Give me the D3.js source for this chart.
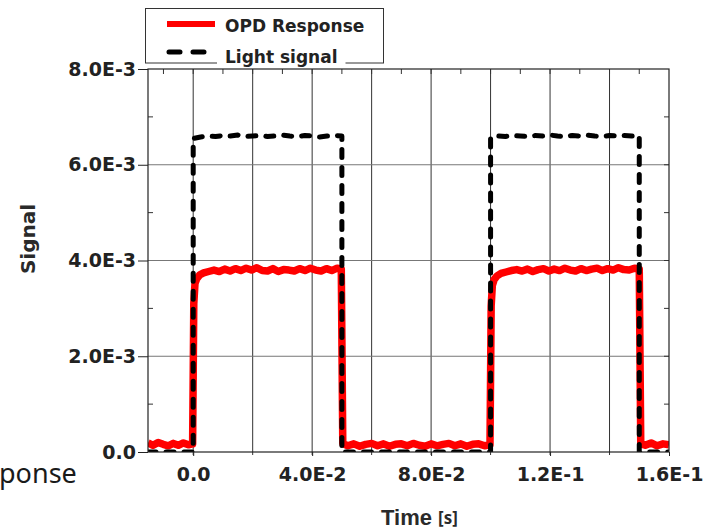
<!DOCTYPE html>
<html>
<head>
<meta charset="utf-8">
<script src="https://cdn.jsdelivr.net/npm/d3@7/dist/d3.min.js"></script>
<style>
  html, body { margin: 0; padding: 0; background: #fff; }
  svg { display: block; }
</style>
</head>
<body>
<svg id="chart" width="709" height="530"></svg>
<script>
// ---- data (signal values in units of 1E-3) ----
const SIGNAL_UNIT = 1e-3;

const respTime = [
  -0.0152, -0.0135, -0.0118, -0.0101, -0.0084, -0.0067, -0.0050, -0.0033, -0.0016, -0.0002,
  0.0002, 0.0006, 0.0012, 0.0022, 0.0035, 0.0052,
  0.0070, 0.0088, 0.0106, 0.0124, 0.0142, 0.0160, 0.0178, 0.0196, 0.0214, 0.0232,
  0.0250, 0.0268, 0.0286, 0.0304, 0.0322, 0.0340, 0.0358, 0.0376, 0.0394, 0.0412,
  0.0430, 0.0448, 0.0466, 0.0484, 0.0498,
  0.0503, 0.0520, 0.0540, 0.0560, 0.0580, 0.0600, 0.0620, 0.0640, 0.0660, 0.0680,
  0.0700, 0.0720, 0.0740, 0.0760, 0.0780, 0.0800, 0.0820, 0.0840, 0.0860, 0.0880,
  0.0900, 0.0920, 0.0940, 0.0960, 0.0980, 0.0998,
  0.1002, 0.1006, 0.1012, 0.1022, 0.1035, 0.1052,
  0.1070, 0.1088, 0.1106, 0.1124, 0.1142, 0.1160, 0.1178, 0.1196, 0.1214, 0.1232,
  0.1250, 0.1268, 0.1286, 0.1304, 0.1322, 0.1340, 0.1358, 0.1376, 0.1394, 0.1412,
  0.1430, 0.1448, 0.1466, 0.1484, 0.1500,
  0.1505, 0.1520, 0.1540, 0.1560, 0.1580, 0.1600
];
const respSignal = [
  0.19, 0.14, 0.20, 0.16, 0.13, 0.18, 0.14, 0.19, 0.15, 0.17,
  3.10, 3.52, 3.62, 3.70, 3.74, 3.77,
  3.80, 3.77, 3.82, 3.78, 3.83, 3.79, 3.84, 3.80, 3.85, 3.79,
  3.78, 3.83, 3.77, 3.81, 3.80, 3.78, 3.83, 3.79, 3.84, 3.80,
  3.78, 3.83, 3.79, 3.84, 3.82,
  0.18, 0.13, 0.17, 0.12, 0.16, 0.18, 0.13, 0.17, 0.12, 0.16,
  0.17, 0.13, 0.18, 0.14, 0.12, 0.17, 0.13, 0.16, 0.18, 0.13,
  0.17, 0.12, 0.16, 0.17, 0.13, 0.15,
  3.05, 3.48, 3.60, 3.68, 3.73, 3.76,
  3.79, 3.81, 3.78, 3.82, 3.77, 3.81, 3.83, 3.78, 3.82, 3.79,
  3.84, 3.80, 3.78, 3.83, 3.79, 3.82, 3.84, 3.79, 3.83, 3.80,
  3.85, 3.81, 3.80, 3.84, 3.82,
  0.17, 0.14, 0.19, 0.13, 0.17, 0.15
];

const lightTime = [
  -0.0152, 0.0000,
  0.0000, 0.0025, 0.0050, 0.0075, 0.0100, 0.0125, 0.0150, 0.0175, 0.0200, 0.0225,
  0.0250, 0.0275, 0.0300, 0.0325, 0.0350, 0.0375, 0.0400, 0.0425, 0.0450, 0.0475, 0.0500,
  0.0500, 0.1000,
  0.1000, 0.1025, 0.1050, 0.1075, 0.1100, 0.1125, 0.1150, 0.1175, 0.1200, 0.1225,
  0.1250, 0.1275, 0.1300, 0.1325, 0.1350, 0.1375, 0.1400, 0.1425, 0.1450, 0.1475, 0.1500,
  0.1500, 0.1600
];
const lightSignal = [
  0, 0,
  6.55, 6.58, 6.60, 6.59, 6.61, 6.60, 6.62, 6.59, 6.60, 6.61,
  6.59, 6.60, 6.62, 6.60, 6.59, 6.61, 6.60, 6.58, 6.60, 6.61, 6.60,
  0, 0,
  6.57, 6.60, 6.59, 6.61, 6.60, 6.59, 6.61, 6.60, 6.62, 6.60,
  6.59, 6.61, 6.60, 6.62, 6.60, 6.59, 6.61, 6.60, 6.61, 6.60, 6.61,
  0, 0
];

const xDomain = [-0.0152, 0.16];
const yDomain = [0, 8];
const xTickValues = [0, 0.04, 0.08, 0.12, 0.16];
const xTickLabels = ["0.0", "4.0E-2", "8.0E-2", "1.2E-1", "1.6E-1"];
const yTickValues = [0, 2, 4, 6, 8];
const yTickLabels = ["0.0", "2.0E-3", "4.0E-3", "6.0E-3", "8.0E-3"];
const xGridValues = [0, 0.02, 0.04, 0.06, 0.08, 0.10, 0.12, 0.14];
const yGridValues = [2, 4, 6];
const xMinorValues = [-0.01, 0, 0.01, 0.02, 0.03, 0.04, 0.05, 0.06, 0.07, 0.08, 0.09, 0.10, 0.11, 0.12, 0.13, 0.14, 0.15];
const yMinorValues = [1, 2, 3, 4, 5, 6, 7];

const seriesNames = ["OPD Response", "Light signal"];
const seriesColors = ["#ff0000", "#000000"];

// ---- layout ----
const svg = d3.select("#chart");
const plot = { left: 148, right: 669, top: 69, bottom: 452 };
const tickFont = "'DejaVu Sans', sans-serif";

const x = d3.scaleLinear().domain(xDomain).range([plot.left, plot.right]);
const y = d3.scaleLinear().domain(yDomain).range([plot.bottom, plot.top]);

svg.append("defs").append("clipPath").attr("id", "plot-clip")
  .append("rect")
  .attr("x", plot.left).attr("y", plot.top)
  .attr("width", plot.right - plot.left).attr("height", plot.bottom - plot.top);

// grid
const grid = svg.append("g");
grid.selectAll("line.vg").data(xGridValues).join("line")
  .attr("x1", d => x(d)).attr("x2", d => x(d))
  .attr("y1", plot.top).attr("y2", plot.bottom + 3)
  .attr("stroke", "#333").attr("stroke-width", 1);
grid.selectAll("line.hg").data(yGridValues).join("line")
  .attr("x1", plot.left).attr("x2", plot.right)
  .attr("y1", d => y(d)).attr("y2", d => y(d))
  .attr("stroke", "#777").attr("stroke-width", 1);

// inner minor ticks on top and right, left minor ticks
const minor = svg.append("g").attr("stroke", "#333").attr("stroke-width", 1);
minor.selectAll("line.t").data(xMinorValues).join("line")
  .attr("x1", d => x(d)).attr("x2", d => x(d))
  .attr("y1", plot.top).attr("y2", plot.top + 5);
minor.selectAll("line.r").data(yMinorValues).join("line")
  .attr("x1", plot.right - 5).attr("x2", plot.right)
  .attr("y1", d => y(d)).attr("y2", d => y(d));
minor.selectAll("line.l").data(yMinorValues.filter(v => v % 2 === 1)).join("line")
  .attr("x1", plot.left).attr("x2", plot.left + 5)
  .attr("y1", d => y(d)).attr("y2", d => y(d));

// series
const series = svg.append("g").attr("clip-path", "url(#plot-clip)");
const respData = respTime.map((t, i) => [t, respSignal[i] * SIGNAL_UNIT]);
const lightData = lightTime.map((t, i) => [t, lightSignal[i] * SIGNAL_UNIT]);
const line = d3.line().x(d => x(d[0])).y(d => y(d[1] / SIGNAL_UNIT));

series.append("path").datum(respData)
  .attr("d", line)
  .attr("fill", "none")
  .attr("stroke", seriesColors[0])
  .attr("stroke-width", 7.5)
  .attr("stroke-linejoin", "round");

series.append("path").datum(lightData)
  .attr("d", line)
  .attr("fill", "none")
  .attr("stroke", seriesColors[1])
  .attr("stroke-width", 5)
  .attr("stroke-linecap", "round")
  .attr("stroke-linejoin", "round")
  .attr("stroke-dasharray", "8,10");

// frame
svg.append("rect")
  .attr("x", plot.left).attr("y", plot.top)
  .attr("width", plot.right - plot.left).attr("height", plot.bottom - plot.top)
  .attr("fill", "none").attr("stroke", "#222").attr("stroke-width", 1.2);

// axes
const xAxis = d3.axisBottom(x)
  .tickValues(xTickValues)
  .tickFormat((d, i) => xTickLabels[i])
  .tickSize(4).tickPadding(12);
const gx = svg.append("g").attr("transform", `translate(0,${plot.bottom})`).call(xAxis);
gx.select(".domain").remove();
gx.selectAll(".tick line").attr("stroke", "#222");
gx.selectAll("text")
  .attr("font-family", tickFont).attr("font-weight", "bold")
  .attr("font-size", 19).attr("fill", "#222");

const yAxis = d3.axisLeft(y)
  .tickValues(yTickValues)
  .tickFormat((d, i) => yTickLabels[i])
  .tickSize(10).tickPadding(2);
const gy = svg.append("g").attr("transform", `translate(${plot.left},0)`).call(yAxis);
gy.select(".domain").remove();
gy.selectAll(".tick line").attr("stroke", "#222");
gy.selectAll("text")
  .attr("font-family", tickFont).attr("font-weight", "bold")
  .attr("font-size", 19).attr("fill", "#222");

// axis titles
svg.append("text")
  .attr("transform", "translate(35,239) rotate(-90)")
  .attr("text-anchor", "middle")
  .attr("font-family", tickFont).attr("font-weight", "bold")
  .attr("font-size", 20).attr("fill", "#2a2a2a")
  .text("Signal");

const xt = svg.append("text")
  .attr("x", 381).attr("y", 525)
  .attr("font-family", "'Liberation Sans', Arial, sans-serif")
  .attr("font-weight", "bold").attr("font-size", 22).attr("fill", "#2a2a2a");
xt.append("tspan").text("Time ");
xt.append("tspan")
  .attr("font-family", "'Noto Sans', sans-serif").attr("font-size", 17)
  .attr("dy", -1)
  .text("[s]");

// neighbouring slide text
svg.append("text")
  .attr("x", -1).attr("y", 483)
  .attr("font-family", "'Noto Sans', sans-serif")
  .attr("font-size", 27).attr("fill", "#1a1a1a")
  .text("ponse");

// legend
const legend = svg.append("g");
legend.append("rect")
  .attr("x", 145.5).attr("y", 8.5).attr("width", 238).attr("height", 54.5)
  .attr("fill", "#fff").attr("stroke", "#333").attr("stroke-width", 1);

const legendRows = [
  { name: seriesNames[0], color: seriesColors[0], sampleY: 24, textY: 32, width: 6, dash: null },
  { name: seriesNames[1], color: seriesColors[1], sampleY: 52, textY: 63, width: 5, dash: "11,13" }
];
legendRows.forEach(r => {
  const label = legend.append("text")
    .attr("x", 225).attr("y", r.textY)
    .attr("font-family", tickFont).attr("font-weight", "bold")
    .attr("font-size", 17).attr("fill", "#222")
    .text(r.name);
  const bb = label.node().getBBox();
  legend.insert("rect", "text")
    .attr("x", bb.x - 8).attr("y", bb.y)
    .attr("width", bb.width + 16).attr("height", bb.height)
    .attr("fill", "#fff");
  legend.append("line")
    .attr("x1", r.dash ? 169 : 167).attr("x2", 215)
    .attr("y1", r.sampleY).attr("y2", r.sampleY)
    .attr("stroke", r.color).attr("stroke-width", r.width)
    .attr("stroke-linecap", r.dash ? "round" : "butt")
    .attr("stroke-dasharray", r.dash);
});
</script>
</body>
</html>
